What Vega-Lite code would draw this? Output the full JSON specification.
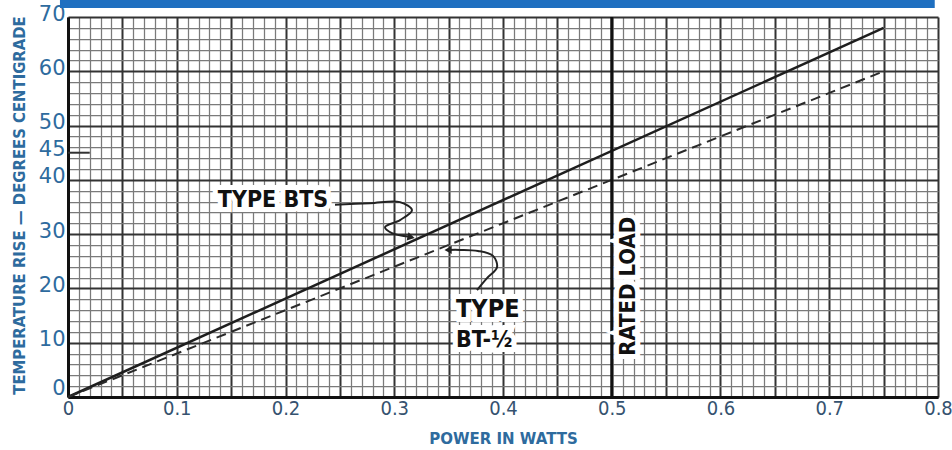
{
  "$schema": "https://vega.github.io/schema/vega-lite/v6.json",
  "width": 870,
  "height": 380,
  "autosize": "none",
  "padding": {"left": 68, "top": 17, "right": 14, "bottom": 53},
  "background": "#ffffff",
  "config": {"view": {"stroke": null}},
  "encoding": {
    "x": {
      "field": "x", "type": "quantitative",
      "scale": {"domain": [0, 0.8], "nice": false, "zero": false},
      "axis": {
        "values": [0,0.01,0.02,0.03,0.04,0.05,0.06,0.07,0.08,0.09,0.1,0.11,0.12,0.13,0.14,0.15,0.16,0.17,0.18,0.19,0.2,0.21,0.22,0.23,0.24,0.25,0.26,0.27,0.28,0.29,0.3,0.31,0.32,0.33,0.34,0.35,0.36,0.37,0.38,0.39,0.4,0.41,0.42,0.43,0.44,0.45,0.46,0.47,0.48,0.49,0.5,0.51,0.52,0.53,0.54,0.55,0.56,0.57,0.58,0.59,0.6,0.61,0.62,0.63,0.64,0.65,0.66,0.67,0.68,0.69,0.7,0.71,0.72,0.73,0.74,0.75,0.76,0.77,0.78,0.79,0.8],
        "title": "POWER IN WATTS",
        "grid": true,
        "gridColor": {"condition": {"test": "round(datum.value*100) % 5 == 0", "value": "#333333"}, "value": "#7a7a7a"},
        "gridWidth": {"condition": {"test": "round(datum.value*100) % 5 == 0", "value": 2}, "value": 1.25},
        "ticks": false,
        "domain": true, "domainColor": "#111111", "domainWidth": 3,
        "labelExpr": "round(datum.value*100) % 10 == 0 ? (datum.value == 0 ? '0' : format(datum.value, '.1f')) : ''",
        "labelFont": "DejaVu Sans Condensed", "labelFontSize": 20, "labelColor": "#35526f",
        "labelPadding": 1, "labelOverlap": false, "labelFlush": false, "labelBound": false,
        "titleFont": "DejaVu Sans", "titleFontWeight": "bold", "titleFontSize": 15, "titleColor": "#2e6b9e",
        "titleY": 41, "titleBaseline": "middle"
      }
    },
    "y": {
      "field": "y", "type": "quantitative",
      "scale": {"domain": [0, 70], "nice": false, "zero": false},
      "axis": {
        "values": [0,2,4,6,8,10,12,14,16,18,20,22,24,26,28,30,32,34,36,38,40,42,44,45,46,48,50,52,54,56,58,60,62,64,66,68,70],
        "title": "TEMPERATURE RISE — DEGREES CENTIGRADE",
        "grid": true,
        "gridColor": {"condition": {"test": "datum.value % 10 == 0", "value": "#333333"}, "value": "#7a7a7a"},
        "gridWidth": {"condition": {"test": "datum.value % 10 == 0", "value": 2}, "value": 1.25},
        "gridOpacity": {"condition": {"test": "datum.value == 45", "value": 0}, "value": 1},
        "ticks": false,
        "domain": true, "domainColor": "#111111", "domainWidth": 3,
        "labelExpr": "(datum.value % 10 == 0 || datum.value == 45) ? datum.label : ''",
        "labelFont": "DejaVu Sans", "labelFontSize": 21, "labelColor": "#2e6b9e",
        "labelPadding": 3, "labelOverlap": false, "labelBound": false, "labelFlush": false,
        "labelOffset": {"condition": {"test": "datum.value == 0", "value": -9}, "value": -3},
        "titleFont": "DejaVu Sans Condensed", "titleFontWeight": "bold", "titleFontSize": 16.5, "titleColor": "#2e6b9e",
        "titleX": -49, "titleY": 188, "titleBaseline": "middle", "titleAngle": -90
      }
    }
  },
  "layer": [
    {
      "data": {"values": [{"x": 0, "y": 0, "series": "BTS"}, {"x": 0.75, "y": 68, "series": "BTS"}]},
      "mark": {"type": "line", "color": "#1e1e1e", "strokeWidth": 2.5}
    },
    {
      "data": {"values": [{"x": 0, "y": 0, "series": "BT-1/2"}, {"x": 0.75, "y": 60, "series": "BT-1/2"}]},
      "mark": {"type": "line", "color": "#2a2a2a", "strokeWidth": 2, "strokeDash": [10, 6]}
    },
    {
      "data": {"values": [{"x": 0.5, "y": 0, "y2": 70}]},
      "mark": {"type": "rule", "color": "#111111", "strokeWidth": 3},
      "encoding": {"y2": {"field": "y2"}}
    },
    {
      "data": {"values": [{"x": 0, "x2": 0.02, "y": 45}]},
      "mark": {"type": "rule", "color": "#333333", "strokeWidth": 2},
      "encoding": {"x2": {"field": "x2"}}
    },
    {
      "data": {"values": [{"x": -0.0074, "x2": 0.797, "y": 71.65, "y2": 73.2}]},
      "mark": {"type": "rect", "color": "#1f6fc0"},
      "encoding": {"x2": {"field": "x2"}, "y2": {"field": "y2"}}
    },
    {
      "data": {"values": [
        {"arrow": "BTS", "seq": 1, "x": 0.2455, "y": 35.4},
        {"arrow": "BTS", "seq": 2, "x": 0.2777, "y": 35.7},
        {"arrow": "BTS", "seq": 3, "x": 0.3053, "y": 35.9},
        {"arrow": "BTS", "seq": 4, "x": 0.3163, "y": 34.4},
        {"arrow": "BTS", "seq": 5, "x": 0.3053, "y": 32.6},
        {"arrow": "BTS", "seq": 6, "x": 0.2915, "y": 31.3},
        {"arrow": "BTS", "seq": 7, "x": 0.2979, "y": 30.2},
        {"arrow": "BTS", "seq": 8, "x": 0.3145, "y": 29.5},
        {"arrow": "BT", "seq": 1, "x": 0.3761, "y": 19.7},
        {"arrow": "BT", "seq": 2, "x": 0.3853, "y": 21.9},
        {"arrow": "BT", "seq": 3, "x": 0.3945, "y": 23.9},
        {"arrow": "BT", "seq": 4, "x": 0.3908, "y": 26.0},
        {"arrow": "BT", "seq": 5, "x": 0.3770, "y": 26.9},
        {"arrow": "BT", "seq": 6, "x": 0.3605, "y": 27.1},
        {"arrow": "BT", "seq": 7, "x": 0.3503, "y": 27.1}
      ]},
      "mark": {"type": "line", "color": "#222222", "strokeWidth": 2, "interpolate": "catmull-rom"},
      "encoding": {
        "detail": {"field": "arrow"},
        "order": {"field": "seq", "type": "quantitative"}
      }
    },
    {
      "data": {"values": [{"x": 0.3155, "y": 29.45}]},
      "mark": {"type": "point", "shape": "triangle-right", "filled": true, "color": "#222222", "size": 70, "angle": 12, "opacity": 1}
    },
    {
      "data": {"values": [{"x": 0.3495, "y": 27.1}]},
      "mark": {"type": "point", "shape": "triangle-left", "filled": true, "color": "#222222", "size": 70, "opacity": 1}
    },
    {
      "data": {"values": [{"x": 0.1885, "y": 36.3, "label": "TYPE BTS"}]},
      "layer": [
        {"mark": {"type": "text", "font": "DejaVu Sans Condensed", "fontWeight": "bold", "fontSize": 23, "align": "center", "baseline": "middle", "color": "#ffffff", "stroke": "#ffffff", "strokeWidth": 10}},
        {"mark": {"type": "text", "font": "DejaVu Sans Condensed", "fontWeight": "bold", "fontSize": 23, "align": "center", "baseline": "middle", "color": "#111111"}}
      ],
      "encoding": {"text": {"field": "label"}}
    },
    {
      "data": {"values": [{"x": 0.3568, "y": 16.2, "label": "TYPE"}]},
      "layer": [
        {"mark": {"type": "text", "font": "DejaVu Sans Condensed", "fontWeight": "bold", "fontSize": 25, "align": "left", "baseline": "middle", "color": "#ffffff", "stroke": "#ffffff", "strokeWidth": 10}},
        {"mark": {"type": "text", "font": "DejaVu Sans Condensed", "fontWeight": "bold", "fontSize": 25, "align": "left", "baseline": "middle", "color": "#111111"}}
      ],
      "encoding": {"text": {"field": "label"}}
    },
    {
      "data": {"values": [{"x": 0.3568, "y": 10.5, "label": "BT-½"}]},
      "layer": [
        {"mark": {"type": "text", "font": "DejaVu Sans Condensed", "fontWeight": "bold", "fontSize": 23, "align": "left", "baseline": "middle", "color": "#ffffff", "stroke": "#ffffff", "strokeWidth": 10}},
        {"mark": {"type": "text", "font": "DejaVu Sans Condensed", "fontWeight": "bold", "fontSize": 23, "align": "left", "baseline": "middle", "color": "#111111"}}
      ],
      "encoding": {"text": {"field": "label"}}
    },
    {
      "data": {"values": [{"x": 0.515, "y": 20.4, "label": "RATED LOAD"}]},
      "layer": [
        {"mark": {"type": "text", "font": "DejaVu Sans Condensed", "fontWeight": "bold", "fontSize": 22, "align": "center", "baseline": "middle", "angle": 270, "color": "#ffffff", "stroke": "#ffffff", "strokeWidth": 10}},
        {"mark": {"type": "text", "font": "DejaVu Sans Condensed", "fontWeight": "bold", "fontSize": 22, "align": "center", "baseline": "middle", "angle": 270, "color": "#111111"}}
      ],
      "encoding": {"text": {"field": "label"}}
    }
  ]
}
